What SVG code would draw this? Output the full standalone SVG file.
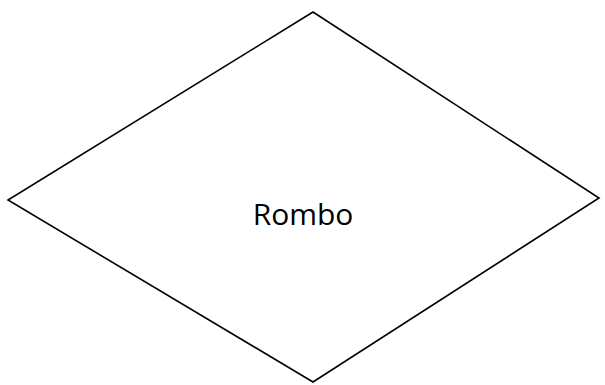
<svg xmlns="http://www.w3.org/2000/svg" width="605" height="385" viewBox="0 0 605 385">
<style>
.shape{fill:#fff;stroke:#000;stroke-width:1.6;stroke-linejoin:miter}
.lbl{font-family:"Open Sans","Liberation Sans",sans-serif;font-size:30px;fill:#000;text-anchor:middle}
</style>
<rect width="605" height="385" fill="#fff"/>
<g id="rombo">
<polygon class="shape" points="313,12 599,198 313,382 8,200"/>
<text class="lbl" x="303" y="225">Rombo</text>
</g>
<g id="connectors"/>
</svg>
